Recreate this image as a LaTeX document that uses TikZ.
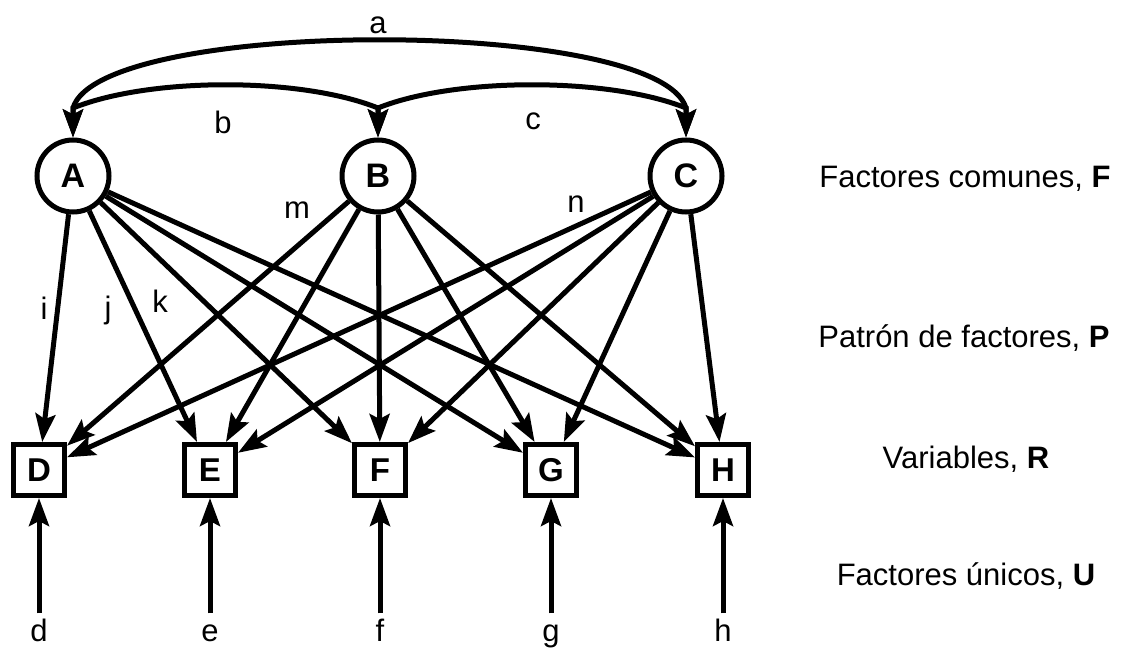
\documentclass[tikz,border=0pt]{standalone}
\usepackage{fontspec}
\setmainfont{Liberation Sans}
\usetikzlibrary{arrows.meta}
\begin{document}
\begin{tikzpicture}[x=1pt,y=-1pt,
  every node/.style={font=\fontsize{31}{37}\selectfont},
  fac/.style={circle,draw,line width=5pt,minimum size=72pt,inner sep=0pt,font=\fontsize{34}{40}\selectfont\bfseries},
  var/.style={rectangle,draw,line width=5pt,minimum size=51pt,inner sep=0pt,font=\fontsize{33}{39}\selectfont\bfseries},
  lbl/.style={anchor=base,inner sep=0pt},
  uni/.style={anchor=base,text height=23pt,text depth=7pt,inner sep=4.5pt},
  arr/.style={line width=5pt,-{Stealth[length=28pt,width=20pt,inset=5pt]}},
  dbl/.style={line width=5pt,{Stealth[length=28pt,width=20pt,inset=5pt]}-{Stealth[length=28pt,width=20pt,inset=5pt]}}
]
\useasboundingbox (0,0) rectangle (1124,648);

% common factors
\node[fac] (A) at (73,176) {A};
\node[fac] (B) at (378,176) {B};
\node[fac] (C) at (686,176) {C};

% variables
\node[var] (D) at (39,470) {D};
\node[var] (E) at (210,470) {E};
\node[var] (F) at (380,470) {F};
\node[var] (G) at (551,470) {G};
\node[var] (H) at (723,470) {H};

% unique factors
\node[uni] (d) at (39,641) {d};
\node[uni] (e) at (210,641) {e};
\node[uni] (f) at (380,641) {f};
\node[uni] (g) at (551,641) {g};
\node[uni] (h) at (723,641) {h};

% correlation arcs
\coordinate (aA) at (73,108);
\coordinate (aB) at (378,108);
\coordinate (aC) at (686,108);
\draw[dbl] (A) -- (aA) .. controls (100,17) and (659,17) .. (aC) -- (C);
\draw[dbl] (A) -- (aA) .. controls (150,77) and (301,77) .. (aB) -- (B);
\draw[dbl] (B) -- (aB) .. controls (455,77) and (609,77) .. (aC) -- (C);

% loadings
\foreach \s in {A,B,C}{
  \foreach \t in {D,E,F,G,H}{
    \draw[arr] (\s) -- (\t);
  }
}

% uniqueness arrows
\draw[arr] (d) -- (D);
\draw[arr] (e) -- (E);
\draw[arr] (f) -- (F);
\draw[arr] (g) -- (G);
\draw[arr] (h) -- (H);

% labels
\node[lbl] (la) at (378,33) {a};
\node[lbl] (lb) at (223,133) {b};
\node[lbl] (lc) at (533,129) {c};
\node[lbl] (li) at (44,319) {i};
\node[lbl] (lj) at (108,318) {j};
\node[lbl] (lk) at (160,312) {k};
\node[lbl] (lm) at (297,218) {m};
\node[lbl] (ln) at (576,212) {n};

% right-hand descriptions
\node[anchor=base] (tF) at (965,187) {Factores comunes, \textbf{F}};
\node[anchor=base] (tP) at (964,347) {Patrón de factores, \textbf{P}};
\node[anchor=base] (tR) at (966,468) {Variables, \textbf{R}};
\node[anchor=base] (tU) at (966,585) {Factores únicos, \textbf{U}};
\end{tikzpicture}
\end{document}
